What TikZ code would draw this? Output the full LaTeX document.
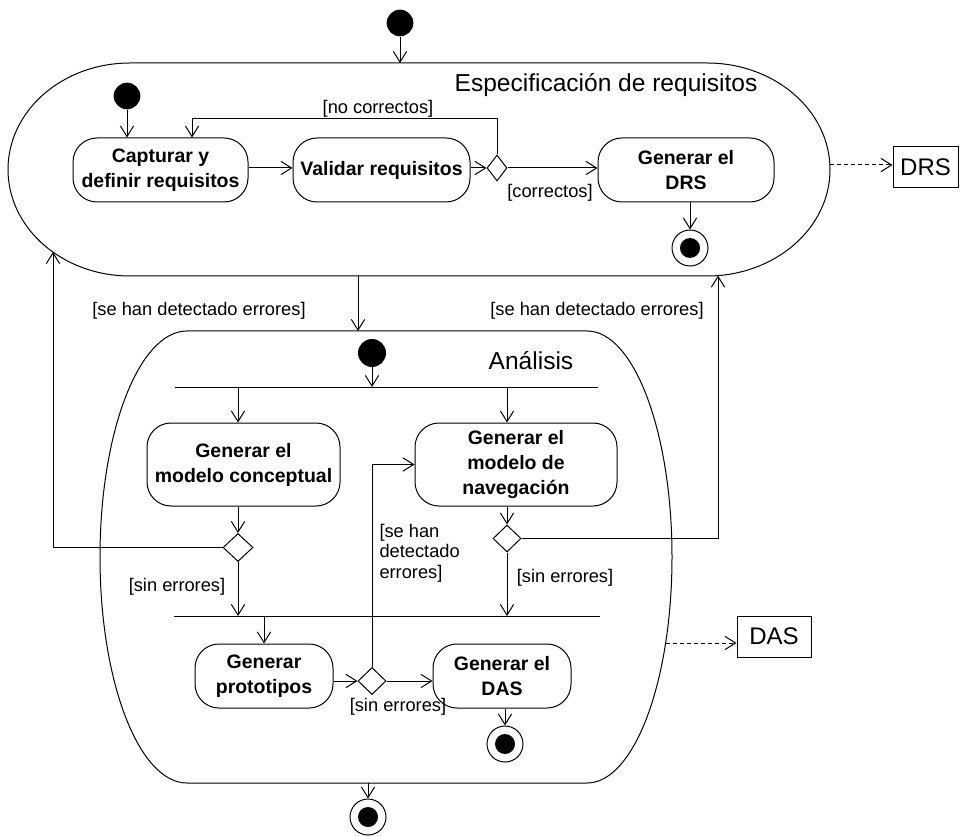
\documentclass[tikz,border=0pt]{standalone}
\usepackage{fontspec}
\setmainfont{Liberation Sans}
\usetikzlibrary{arrows.meta,shapes.geometric,calc}
\begin{document}
\begin{tikzpicture}[x=0.75pt,y=-0.75pt,
  line width=0.75pt,
  arr/.style={-{Straight Barb[length=8pt,width=10pt]}},
  dasharr/.style={arr, dash pattern=on 3pt off 2.25pt},
  action/.style={draw, rounded corners=18pt, align=center, inner sep=0pt, font=\fontsize{14.6}{18.75}\selectfont\bfseries},
  initst/.style={circle, fill=black, inner sep=0pt, minimum size=20pt},
  finalst/.style={circle, draw, inner sep=0pt, minimum size=27pt, path picture={\fill[black] (path picture bounding box.center) circle (7.5pt);}},
  decision/.style={diamond, draw, inner sep=0pt},
  guard/.style={font=\fontsize{13.7}{15.4}\selectfont, inner sep=0pt},
  title/.style={font=\fontsize{18.4}{22}\selectfont, inner sep=0pt},
  artifact/.style={draw, font=\fontsize{18}{22}\selectfont, inner sep=0pt, minimum height=30.75pt}
]
\useasboundingbox (0,0) rectangle (966,837);

% containers
\draw (130,63) -- (707,63) arc[start angle=-90, end angle=90, x radius=123, y radius=106.5]
  -- (130,276) arc[start angle=90, end angle=270, x radius=122, y radius=106.5] -- cycle;
\draw (187,331) -- (587,331) arc[start angle=-90, end angle=90, x radius=85, y radius=226]
  -- (187,783) arc[start angle=90, end angle=270, x radius=87, y radius=226] -- cycle;

\coordinate (specTop) at (400,63);
\coordinate (specBot) at (358,276);
\coordinate (specRight) at (830,165);
\coordinate (retL) at (53,252);
\coordinate (retR) at (718,275.6);
\coordinate (anTop) at (358,331);
\coordinate (anBot) at (368,783);
\coordinate (anRight) at (665.6,643);
\coordinate (nc) at (192,119);
\coordinate (forkL) at (175,387);
\coordinate (forkR) at (598,387);
\coordinate (joinL) at (174,616);
\coordinate (joinR) at (600,616);

% top level
\node[initst] (i0) at (400,23) {};
\node[title] (specT) at (606,85) {Especificación de requisitos};
\node[initst] (i1) at (127,96) {};
\node[action, minimum width=131.25pt, minimum height=48pt] (cap) at (160.5,170) {Capturar y\\definir requisitos};
\node[action, minimum width=132.75pt, minimum height=48pt] (val) at (381.5,170) {Validar requisitos};
\node[decision, minimum width=15pt, minimum height=19.5pt] (d1) at (497,168) {};
\node[action, minimum width=132pt, minimum height=48pt] (drsA) at (686,170) {Generar el\\DRS};
\node[finalst] (f1) at (690,248) {};
\node[artifact, minimum width=48.75pt] (drsO) at (925.5,167.5) {DRS};

% analysis
\node[title] (anT) at (531,361) {Análisis};
\node[initst, minimum size=21pt] (i2) at (372,353) {};
\node[action, minimum width=144.75pt, minimum height=62.25pt] (conc) at (243.5,464.5) {Generar el\\modelo conceptual};
\node[action, minimum width=151.5pt, minimum height=62.25pt] (nav) at (516,464.5) {Generar el\\modelo de\\navegación};
\node[decision, minimum width=22.5pt, minimum height=21pt] (dc) at (238,547.5) {};
\node[decision, minimum width=21pt, minimum height=20.25pt] (dn) at (507,538.5) {};
\node[action, minimum width=103.5pt, minimum height=48pt] (proto) at (264,676) {Generar\\prototipos};
\node[decision, minimum width=21pt, minimum height=20.25pt] (dp) at (372,681) {};
\node[action, minimum width=103.5pt, minimum height=48pt] (dasA) at (502,676) {Generar el\\DAS};
\node[finalst] (f2) at (505,744) {};
\node[finalst] (f3) at (368,817) {};
\node[artifact, minimum width=55.5pt] (dasO) at (774,636.5) {DAS};

% connectors
\draw[arr] (i0) -- (specTop);
\draw[arr] (i1) -- (i1 |- cap.north);
\draw[arr] (cap.east |- d1) -- (val.west |- d1);
\draw[arr] (val.east |- d1) -- (d1.west);
\draw[arr] (d1.east) -- (d1 -| drsA.west);
\draw[arr] (d1.north) |- (nc) -- (nc |- cap.north);
\draw[arr] (f1 |- drsA.south) -- (f1.north);
\draw[dasharr] (specRight) -- (specRight -| drsO.west);
\draw[arr] (specBot) -- (anTop);
\draw[arr] (i2) -- (i2 |- forkL);
\draw (forkL) -- (forkR);
\draw[arr] (dc |- forkL) -- (dc |- conc.north);
\draw[arr] (dn |- forkL) -- (dn |- nav.north);
\draw[arr] (dc |- conc.south) -- (dc.north);
\draw[arr] (dn |- nav.south) -- (dn.north);
\draw[arr] (dc.west) -| (retL);
\draw[arr] (dn.east) -| (retR);
\draw[arr] (dc.south) -- (dc |- joinL);
\draw[arr] (dn.south) -- (dn |- joinL);
\draw (joinL) -- (joinR);
\draw[arr] (proto.north |- joinL) -- (proto.north);
\draw[arr] (proto.east |- dp) -- (dp.west);
\draw[arr] (dp.east) -- (dp -| dasA.west);
\draw[arr] (dp.north) |- (nav.west);
\draw[arr] (f2 |- dasA.south) -- (f2.north);
\draw[arr] (anBot) -- (f3.north);
\draw[dasharr] (anRight) -- (anRight -| dasO.west);

% guards
\node[guard] (g1) at (378,109) {[no correctos]};
\node[guard] (g2) at (550,193) {[correctos]};
\node[guard] (g3) at (199,311) {[se han detectado errores]};
\node[guard] (g4) at (597,311) {[se han detectado errores]};
\node[guard, anchor=west, align=left] (g5) at (379,553) {[se han\\detectado\\errores]};
\node[guard] (g6) at (177,587) {[sin errores]};
\node[guard] (g7) at (565,578) {[sin errores]};
\node[guard] (g8) at (398,707) {[sin errores]};
\end{tikzpicture}
\end{document}
